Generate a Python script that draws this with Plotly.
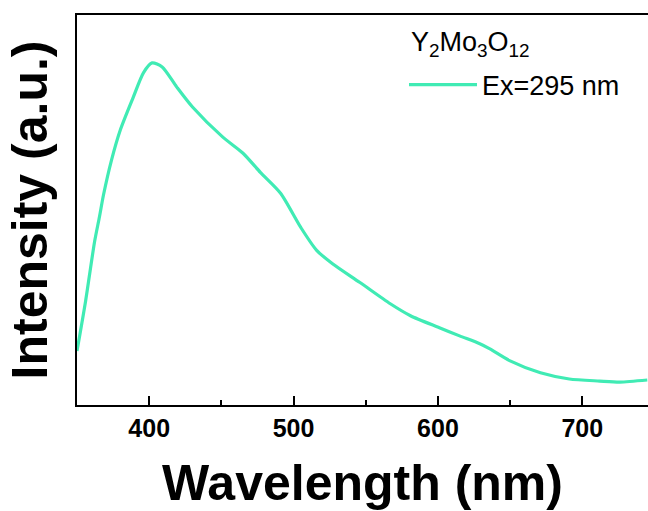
import plotly.graph_objects as go

# Photoluminescence emission spectrum of Y2Mo3O12 under 295 nm excitation
wavelength_nm = [350, 356, 362.2, 365.6, 368.3, 373.9, 380, 389, 396, 402, 409,
                 419, 430, 451, 465, 477, 491, 505, 516, 527, 546, 567, 581,
                 601, 615, 629, 636, 650, 671, 691, 712, 726, 745]
intensity_au = [0.158, 0.305, 0.478, 0.551, 0.613, 0.716, 0.804, 0.900, 0.971,
                1.000, 0.988, 0.930, 0.871, 0.783, 0.736, 0.680, 0.619, 0.519,
                0.452, 0.413, 0.358, 0.296, 0.261, 0.226, 0.202, 0.179, 0.164,
                0.129, 0.094, 0.076, 0.070, 0.067, 0.073]

x_ticks = [400, 500, 600, 700]
sample_label = "Y<sub>2</sub>Mo<sub>3</sub>O<sub>12</sub>"
series_name = "Ex=295 nm"

FONT = "Liberation Sans, Arial, sans-serif"
LINE_COLOR = "#40EBB4"

fig = go.Figure()
fig.add_trace(go.Scatter(
    x=wavelength_nm, y=intensity_au, mode="lines", name=series_name,
    line=dict(color=LINE_COLOR, width=3.2, shape="spline", smoothing=0.7),
))

# Sample name heading above the legend entry
fig.add_annotation(
    text=sample_label, xref="paper", yref="paper",
    x=0.581, y=0.925, xanchor="left", yanchor="middle",
    showarrow=False, font=dict(size=27, family=FONT, color="black"),
)

fig.update_layout(
    width=648, height=511,
    margin=dict(l=77, r=0, t=15, b=106, autoexpand=False),
    paper_bgcolor="white", plot_bgcolor="white",
    font=dict(family=FONT, color="black"),
    showlegend=True,
    legend=dict(
        x=0.5727, y=0.8205, xanchor="left", yanchor="middle",
        bgcolor="rgba(0,0,0,0)",
        font=dict(size=27, family=FONT),
        itemwidth=68, tracegroupgap=0,
    ),
    xaxis=dict(
        range=[350, 745.5], showgrid=False, zeroline=False,
        showline=True, linecolor="black", linewidth=2, mirror=True,
        ticks="inside", ticklen=9, tickwidth=2, tickcolor="black",
        tickvals=x_ticks,
        minor=dict(ticks="inside", ticklen=5, tickwidth=2, tickcolor="black", dtick=50,
                   showgrid=False),
        tickfont=dict(size=25, family=FONT, weight="bold"),
        ticklabelstandoff=0,
        title=dict(text="Wavelength (nm)", font=dict(size=50, family=FONT, weight="bold"),
                   standoff=26),
    ),
    yaxis=dict(
        range=[0, 1.14], showgrid=False, zeroline=False,
        showline=True, linecolor="black", linewidth=2, mirror=False,
        ticks="", showticklabels=False,
        title=dict(text="Intensity (a.u.)", font=dict(size=50, family=FONT, weight="bold"),
                   standoff=12),
    ),
)

fig.write_html("out.html")
